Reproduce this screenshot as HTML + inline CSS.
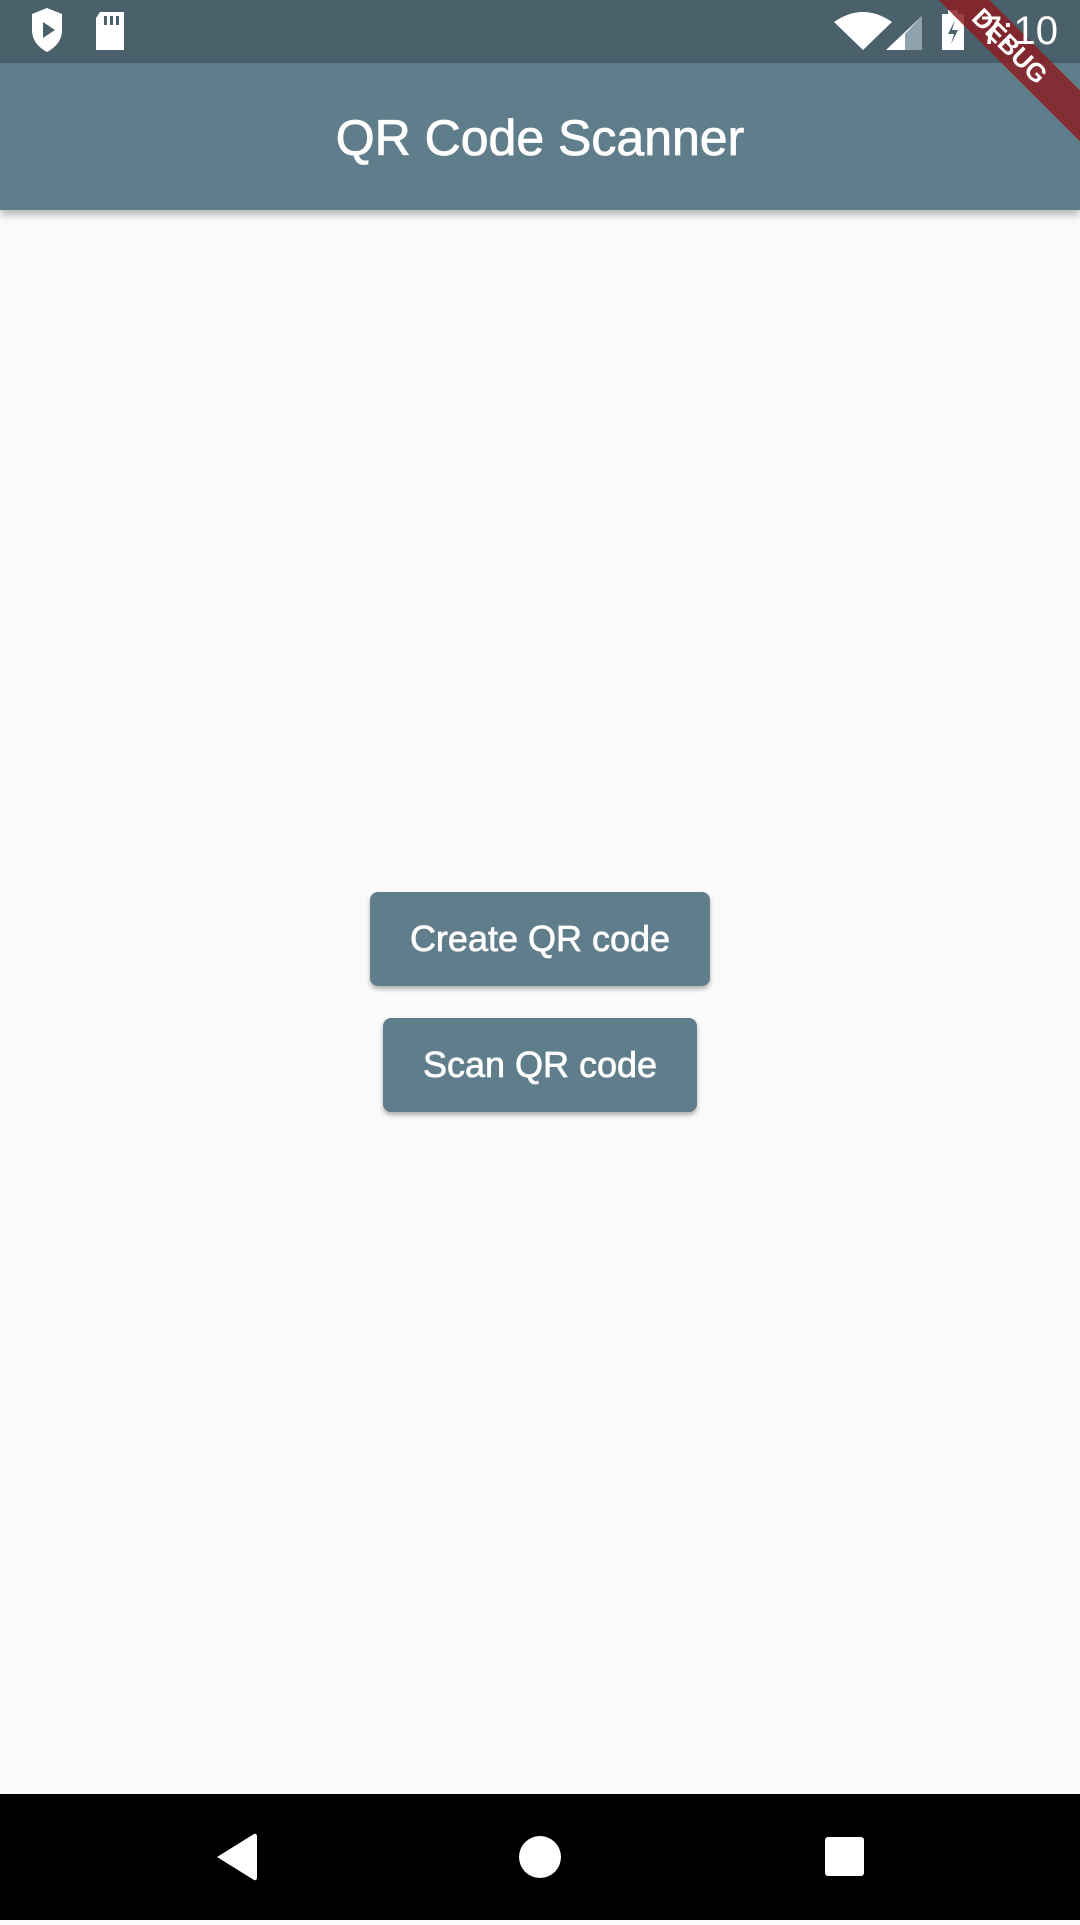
<!DOCTYPE html>
<html><head><meta charset="utf-8"><style>
html,body{margin:0;padding:0;width:1080px;height:1920px;overflow:hidden;background:#fafafa;font-family:"Liberation Sans",sans-serif;}
.status{position:absolute;left:0;top:0;width:1080px;height:63px;background:#4a616c;}
.appbar{position:absolute;left:0;top:63px;width:1080px;height:147px;background:#607d8b;box-shadow:0 4px 8px rgba(0,0,0,0.3);}
.title{position:absolute;left:0;width:1080px;top:2px;height:147px;line-height:147px;text-align:center;color:#fff;font-size:50px;-webkit-text-stroke:0.8px #fff;}
.btn{position:absolute;background:#607d8b;color:#fff;border-radius:8px;text-align:center;font-size:36px;box-shadow:0 3px 5px rgba(0,0,0,0.3);-webkit-text-stroke:0.7px #fff;}
.nav{position:absolute;left:0;top:1794px;width:1080px;height:126px;background:#000;}
.time{position:absolute;right:22px;top:9px;color:#fff;font-size:40px;z-index:5;}
.banner{position:absolute;right:-60px;top:28px;width:260px;height:36px;background:rgba(139,30,36,0.85);color:#fff;transform:rotate(45deg);text-align:center;font-weight:bold;font-size:26px;line-height:36px;}
</style></head><body>
<div class="status">
<svg width="1080" height="63" style="position:absolute;left:0;top:0">
<path d="M32 14 L47 8 L62 14 L62 30 Q62 44 47 52 Q32 44 32 30Z" fill="#fff"/>
<path d="M43 22 L55 30 L43 38Z" fill="#4a616c"/>
<path d="M100 12 L124 12 L124 50 L96 50 L96 18Z" fill="#fff"/>
<rect x="104" y="16" width="3" height="9" fill="#4a616c"/><rect x="110" y="16" width="3" height="9" fill="#4a616c"/><rect x="116" y="16" width="3" height="9" fill="#4a616c"/>
<path d="M834 22 Q863 2 892 22 L863 50Z" fill="#fff"/>
<path d="M886 50 L922 16 L922 50Z" fill="#fff"/>
<path d="M905 34 L922 16 L922 50 L905 50Z" fill="#8fa3ad"/>
<rect x="942" y="14" width="22" height="36" fill="#fff"/><rect x="948" y="10" width="10" height="5" fill="#fff"/>
<path d="M955 20 L948 34 L954 34 L951 44 L958 30 L952 30Z" fill="#4a616c"/>
</svg>
</div>
<div class="appbar"><div class="title">QR Code Scanner</div></div>
<div style="position:absolute;right:0;top:0;width:160px;height:160px;overflow:hidden"><div class="banner">DEBUG</div></div>
<div class="time">7:10</div>
<div class="btn" style="left:370px;top:892px;width:340px;height:94px;line-height:94px;">Create QR code</div>
<div class="btn" style="left:383px;top:1018px;width:314px;height:94px;line-height:94px;">Scan QR code</div>
<div class="nav"><svg width="1080" height="126">
<path d="M217 63 L254 40 Q257 39 257 43 L257 83 Q257 87 254 86Z" fill="#fff"/>
<circle cx="540" cy="63" r="21" fill="#fff"/>
<rect x="825" y="43" width="39" height="39" rx="3" fill="#fff"/>
</svg></div>
</body></html>
